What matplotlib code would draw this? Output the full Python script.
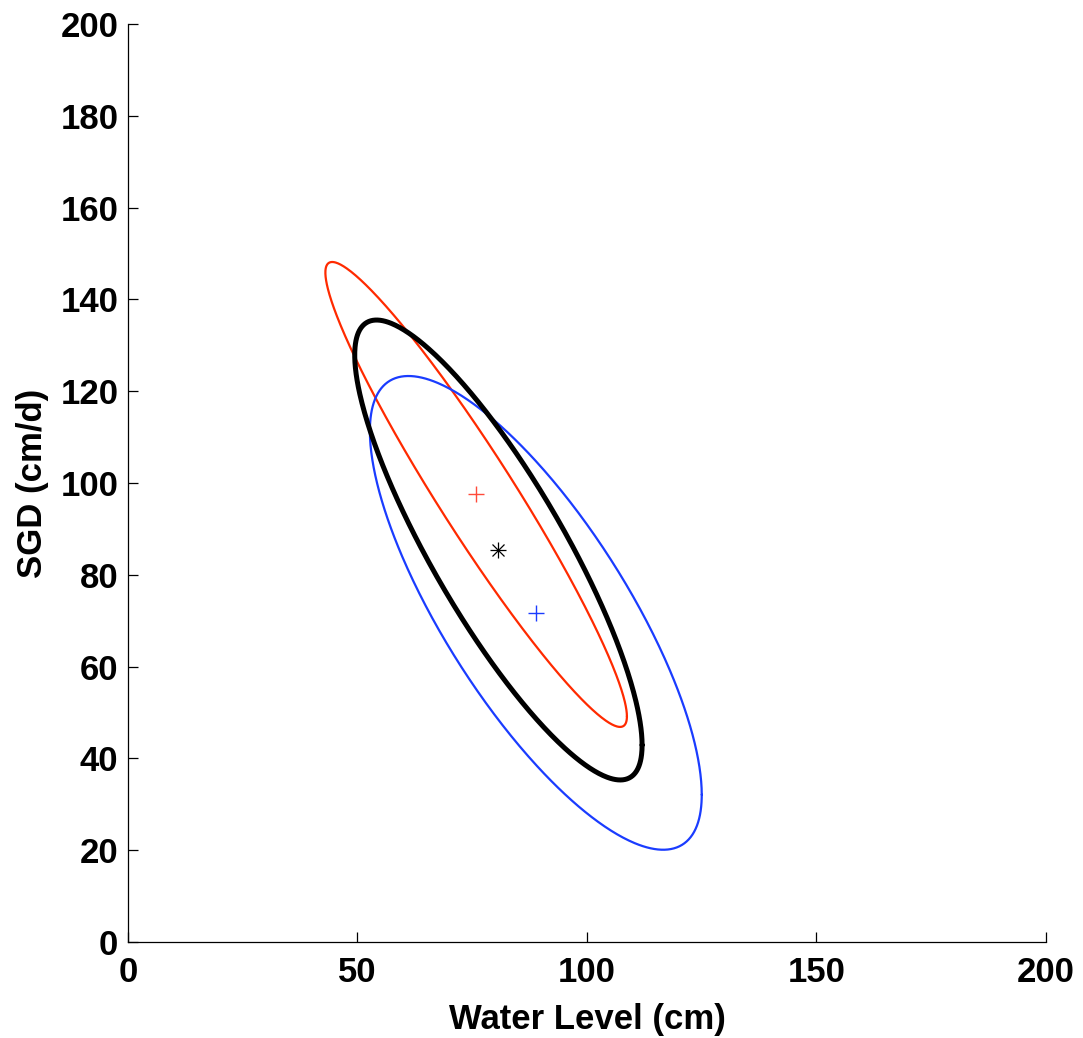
import numpy as np
import matplotlib
matplotlib.use("Agg")
import matplotlib.pyplot as plt

plt.rcParams['font.family'] = ['Liberation Sans', 'DejaVu Sans']
plt.rcParams['font.weight'] = 'bold'

# ellipse data: centre and covariance-like shape terms (cm, cm/d)
names = ["red", "black", "blue"]
center_x = [75.85, 80.7, 88.85]
center_y = [97.5, 85.4, 71.7]
s_xx = [1079.0, 980.0, 1307.0]
s_yy = [2565.0, 2510.0, 2663.0]
s_xy = [-1588.0, -1330.0, -1432.0]

colors = {"red": "#ff2a00", "black": "black", "blue": "#1a3cff"}
widths = {"red": 1.6, "black": 3.6, "blue": 1.6}
marker_colors = {"red": "#ff4a3a", "black": "black", "blue": "#1a3cff"}

x_ticks = [0, 50, 100, 150, 200]
y_ticks = [0, 20, 40, 60, 80, 100, 120, 140, 160, 180, 200]

fig = plt.figure(figsize=(10.83, 10.38), dpi=100)
ax = fig.add_axes([0.1182, 0.0925, 0.8476, 0.8844])

t = np.linspace(0, 2 * np.pi, 600)
circle = np.vstack([np.cos(t), np.sin(t)])

for i, name in enumerate(names):
    cov = np.array([[s_xx[i], s_xy[i]], [s_xy[i], s_yy[i]]])
    L = np.linalg.cholesky(cov)
    pts = L @ circle
    ax.plot(center_x[i] + pts[0], center_y[i] + pts[1],
            color=colors[name], lw=widths[name],
            solid_capstyle='round', solid_joinstyle='round',
            zorder=3 if name == "black" else 2)

# centre markers
ax.plot(center_x[0], center_y[0], '+', color=marker_colors["red"], ms=11, mew=1.0, zorder=4)
ax.plot(center_x[2], center_y[2], '+', color=marker_colors["blue"], ms=11, mew=1.0, zorder=4)
ax.plot(center_x[1], center_y[1], '+', color="black", ms=11, mew=0.9, zorder=4)
ax.plot(center_x[1], center_y[1], 'x', color="black", ms=8, mew=0.9, zorder=4)

ax.set_xlim(0, 200)
ax.set_ylim(0, 200)
ax.set_xticks(x_ticks)
ax.set_yticks(y_ticks)
ax.spines['top'].set_visible(False)
ax.spines['right'].set_visible(False)
for sp in ax.spines.values():
    sp.set_linewidth(0.9)
ax.tick_params(direction='in', length=7, width=0.9, labelsize=25)
ax.tick_params(axis='x', pad=10)
ax.tick_params(axis='y', pad=7)
for lab in ax.get_xticklabels() + ax.get_yticklabels():
    lab.set_fontweight('bold')

ax.set_xlabel("Water Level (cm)", fontsize=25, fontweight='bold', labelpad=10)
ax.set_ylabel("SGD (cm/d)", fontsize=25, fontweight='bold', labelpad=8)

fig.savefig("out.png", dpi=100)
